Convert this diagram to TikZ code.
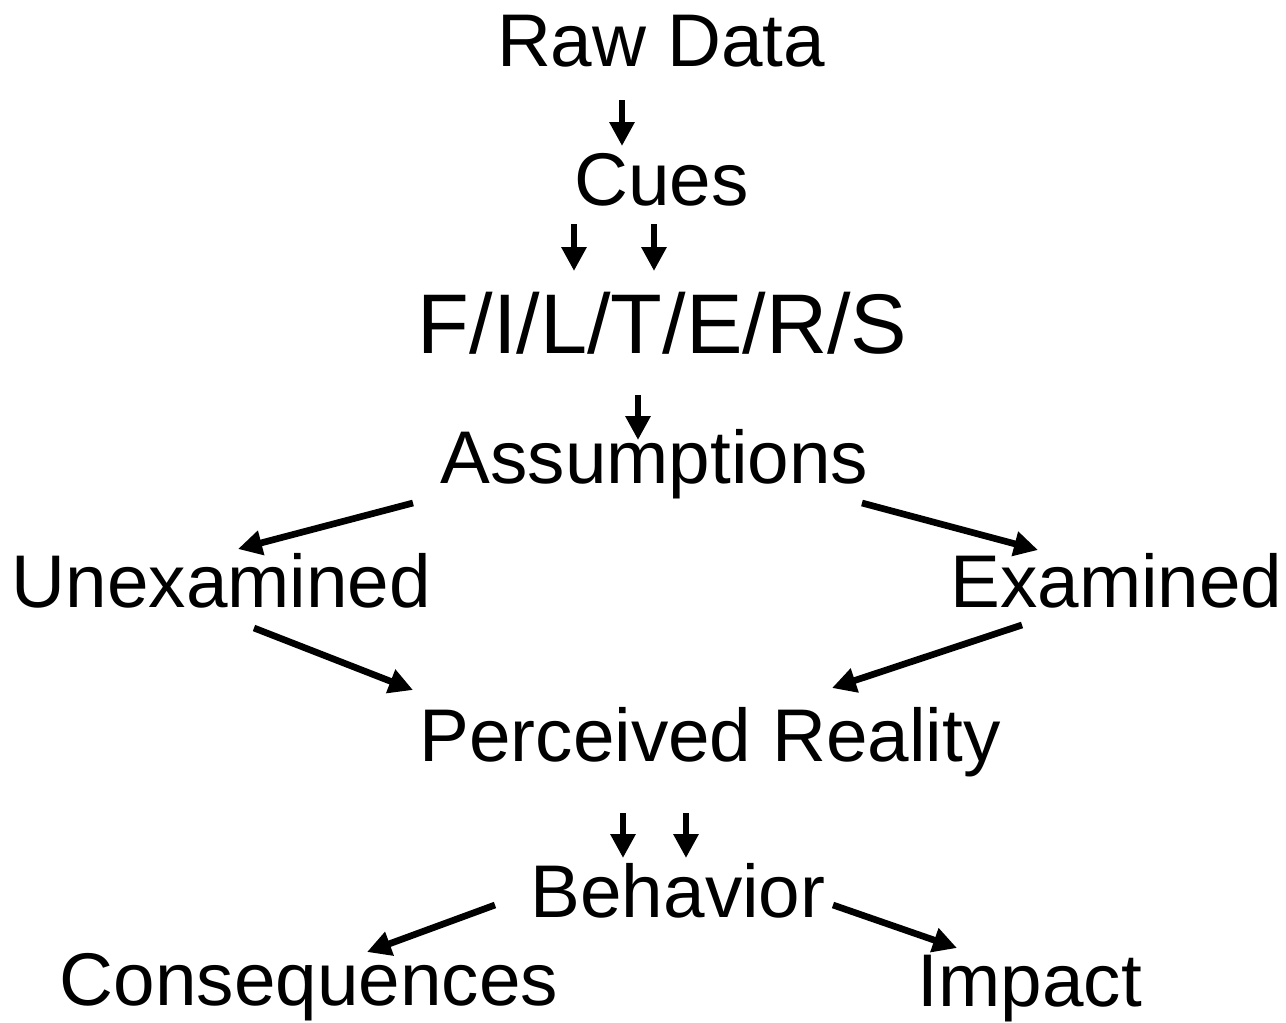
\documentclass[tikz,border=0pt]{standalone}
\usepackage{fontspec}
\setmainfont{Liberation Sans}
\usetikzlibrary{arrows.meta}
\begin{document}
\begin{tikzpicture}[x=0.75pt,y=-0.75pt,
  lbl/.style={anchor=base,inner sep=0pt,font=\fontsize{56}{60}\selectfont},
  biglbl/.style={lbl,font=\fontsize{63.5}{70}\selectfont},
  arr/.style={line width=5pt,-{Triangle[length=18pt,width=18pt]}}]
\useasboundingbox[fill=white] (0,0) rectangle (1286,1022);
% stages of the perception chain
\node[lbl]    (raw)  at (661,66)    {Raw Data};
\node[lbl]    (cues) at (661.5,205) {Cues};
\node[biglbl] (filt) at (662.5,353) {F/I/L/T/E/R/S};
\node[lbl]    (asm)  at (654.5,483) {Assumptions};
\node[lbl]    (unex) at (221.5,607) {Unexamined};
\node[lbl]    (exam) at (1116.5,607){Examined};
\node[lbl]    (perc) at (710,761)   {Perceived Reality};
\node[lbl]    (beh)  at (678,917)   {Behavior};
\node[lbl]    (cons) at (309,1005)  {Consequences};
\node[lbl]    (imp)  at (1030,1006) {Impact};
% connectors
\draw[arr] ([shift={(-39,34)}]raw.base)    -- ([shift={(-39.5,-59)}]cues.base);
\draw[arr] ([shift={(-87.5,19)}]cues.base) -- ([shift={(-88.5,-82)}]filt.base);
\draw[arr] ([shift={(-7.5,19)}]cues.base)  -- ([shift={(-8.5,-82)}]filt.base);
\draw[arr] ([shift={(-24.5,42)}]filt.base) -- ([shift={(-16.5,-43)}]asm.base);
\draw[arr] ([shift={(-241.5,20)}]asm.base) -- ([shift={(16.5,-58)}]unex.base);
\draw[arr] ([shift={(207.5,20)}]asm.base)  -- ([shift={(-78.5,-57)}]exam.base);
\draw[arr] ([shift={(32.5,21)}]unex.base)  -- ([shift={(-297,-71)}]perc.base);
\draw[arr] ([shift={(-94.5,18)}]exam.base) -- ([shift={(122,-73)}]perc.base);
\draw[arr] ([shift={(-87,52)}]perc.base)   -- ([shift={(-55,-59)}]beh.base);
\draw[arr] ([shift={(-24,52)}]perc.base)   -- ([shift={(8,-59)}]beh.base);
\draw[arr] ([shift={(-183,-12)}]beh.base)  -- ([shift={(58,-53)}]cons.base);
\draw[arr] ([shift={(155,-12)}]beh.base)   -- ([shift={(-73,-58)}]imp.base);
\end{tikzpicture}
\end{document}
